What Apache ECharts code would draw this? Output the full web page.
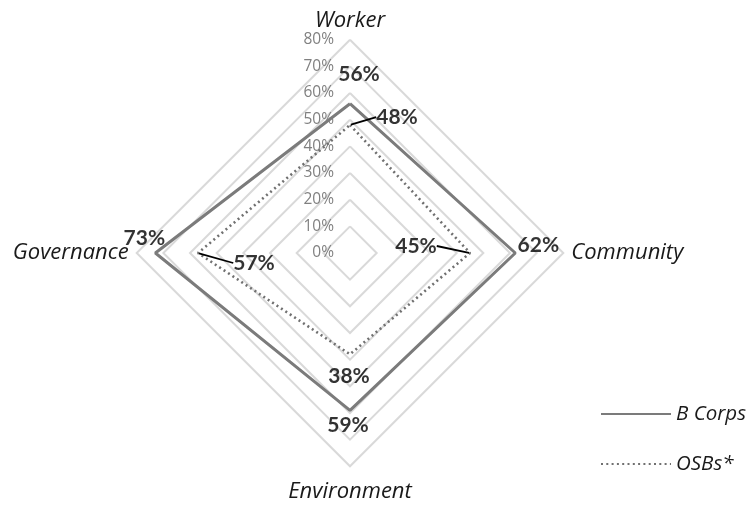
<!DOCTYPE html>
<html>
<head>
<meta charset="utf-8">
<script src="https://cdn.jsdelivr.net/npm/echarts@6/dist/echarts.min.js"></script>
<style>html,body{margin:0;padding:0;background:#fff;}#c{width:752px;height:505px;}</style>
</head>
<body>
<div id="c"></div>
<script>
const categories = ['Worker', 'Community', 'Environment', 'Governance'];
const seriesNames = ['B Corps', 'OSBs*'];
const bCorps = [56, 62, 59, 73];
const osbs = [48, 45, 38, 57];
const axisMax = 80;
const axisStep = 10;

const FONT = '"Open Sans", Lato, sans-serif';
const NUMFONT = 'Lato, "Open Sans", sans-serif';
const CX = 350, CY = 253, R = 213.3;

// label offsets (layout only)
const bOffsets = [[9, -29], [23, -8], [-2, 15], [-11, -15]];
const oOffsets = [[47, -8], [-54, -7], [-1, 22], [56, 10]];
const oLeader = [true, true, false, true];

const step = 360 / categories.length;
function loop(vals) {
  const pts = vals.map((v, i) => [v, i * step]);
  pts.push([vals[0], 360]);
  return pts;
}
// radar lays indicators counter-clockwise; reorder so that categories run clockwise
const radarOrder = categories.map((c, i) => categories[(categories.length - i) % categories.length]);

const chart = echarts.init(document.getElementById('c'));
const offsets = [bOffsets, oOffsets];
chart.setOption({
  animation: false,
  backgroundColor: '#fff',
  textStyle: { fontFamily: FONT },
  radar: {
    center: [CX, CY],
    radius: R,
    startAngle: 90,
    shape: 'polygon',
    splitNumber: axisMax / axisStep,
    indicator: radarOrder.map(n => ({ name: n, min: 0, max: axisMax })),
    axisLine: { show: false },
    axisTick: { show: false },
    splitArea: { show: false },
    splitLine: { lineStyle: { color: '#d9d9d9', width: 2 } },
    axisName: {
      color: '#1a1a1a', fontStyle: 'italic', fontSize: 22, fontFamily: FONT,
      formatter: n => n === categories[2] ? '{low|' + n + '}' : n,
      rich: { low: { padding: [6, 0, 0, 0], fontStyle: 'italic', fontSize: 22, fontFamily: FONT, color: '#1a1a1a' } }
    },
    nameGap: 8
  },
  polar: { center: [CX, CY], radius: R },
  angleAxis: {
    type: 'value', min: 0, max: 360, startAngle: 90, clockwise: true,
    show: false
  },
  radiusAxis: {
    type: 'value', min: 0, max: axisMax, interval: axisStep,
    axisLine: { show: false }, axisTick: { show: false }, splitLine: { show: false },
    axisLabel: { formatter: '{value}%', color: '#808080', fontSize: 15.5, margin: 16, fontFamily: FONT }
  },
  legend: {
    orient: 'vertical', left: 595, top: 399,
    itemWidth: 70, itemHeight: 14, itemGap: 30,
    data: seriesNames,
    itemStyle: { opacity: 0 },
    textStyle: { fontStyle: 'italic', fontSize: 20.5, color: '#1a1a1a', fontFamily: FONT }
  },
  series: [
    {
      name: seriesNames[0], type: 'line', coordinateSystem: 'polar',
      data: loop(bCorps), symbol: 'none', showSymbol: false,
      lineStyle: { color: '#7b7b7b', width: 3 }, itemStyle: { color: '#7b7b7b' },
      z: 3
    },
    {
      name: seriesNames[1], type: 'line', coordinateSystem: 'polar',
      data: loop(osbs), symbol: 'none', showSymbol: false,
      lineStyle: { color: '#707070', width: 2.6, type: [2, 3.3] }, itemStyle: { color: '#707070' },
      z: 3
    },
    ...[bCorps, osbs].map((vals, si) => ({
      type: 'scatter', coordinateSystem: 'polar', silent: true,
      symbolSize: 2, itemStyle: { color: 'transparent' },
      data: vals.map((v, i) => ({
        value: [v, i * step],
        labelLine: { show: si === 1 && oLeader[i] }
      })),
      label: {
        show: true, position: 'inside',
        formatter: p => p.value[0] + '%',
        color: '#000', fontWeight: 'bold', fontSize: 21, fontFamily: NUMFONT
      },
      labelLine: { show: false, lineStyle: { color: '#000', width: 1.8 } },
      labelLayout: p => ({ dx: offsets[si][p.dataIndex][0], dy: offsets[si][p.dataIndex][1] }),
      z: 5
    }))
  ]
});
</script>
</body>
</html>
